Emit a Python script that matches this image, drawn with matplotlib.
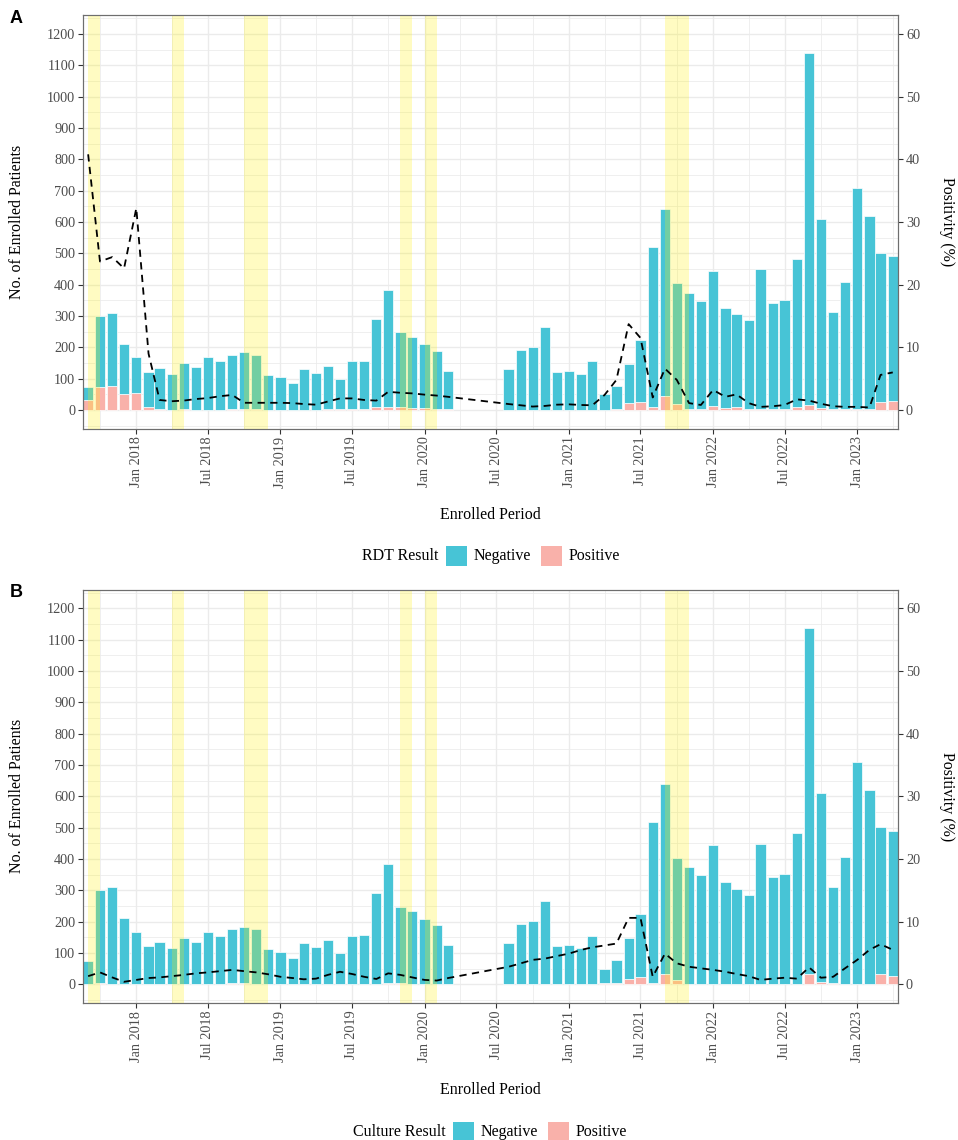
import matplotlib
matplotlib.use('Agg')

import matplotlib.pyplot as plt
import matplotlib.dates as mdates
from matplotlib.patches import Rectangle
from matplotlib.ticker import MultipleLocator
import pandas as pd

plt.rcParams['font.family'] = 'Liberation Serif'

W, H = 958, 1140

# Monthly enrolment, Sep 2017 - Apr 2023 (no enrolment Apr-Jul 2020)
months = pd.date_range('2017-09-01', '2023-04-01', freq='MS')
months = months[(months < '2020-04-01') | (months > '2020-07-01')]

total = [75, 300, 311, 212,
         168, 122, 134, 115, 149, 136, 168, 155, 176, 184, 176, 113,
         104, 85, 132, 119, 140, 100, 155, 157, 292, 384, 248, 234,
         210, 189, 125, 132, 192, 202, 266, 121,
         125, 115, 155, 50, 76, 147, 223, 519, 640, 404, 373, 348,
         443, 326, 305, 286, 449, 343, 352, 483, 1138, 609, 312, 407,
         710, 620, 501, 490]

rdt_pos = [32, 72, 76, 50,
           55, 11, 2, 1, 3, 1, 1, 1, 4, 2, 2, 1,
           1, 1, 1, 1, 2, 2, 3, 2, 8, 10, 8, 6,
           5, 4, 2, 1, 1, 1, 1, 1,
           1, 1, 1, 1, 4, 23, 26, 8, 44, 19, 4, 2,
           14, 7, 8, 3, 2, 2, 3, 8, 16, 6, 2, 2,
           3, 2, 27, 29]

rdt_rate = [40.8, 23.7, 24.4, 22.6,
            32.2, 9.0, 1.6, 1.4, 1.5, 1.75, 1.9, 2.2, 2.4, 1.15, 1.15, 1.15,
            1.15, 1.1, 0.95, 0.85, 1.35, 1.85, 1.85, 1.6, 1.5, 2.9, 2.75, 2.65,
            2.45, 2.3, 2.1, 0.95, 0.75, 0.55, 0.65, 0.85,
            0.9, 0.8, 0.75, 2.4, 4.8, 13.7, 11.5, 2.0, 6.6, 4.8, 1.1, 0.8,
            3.2, 2.1, 2.5, 1.1, 0.5, 0.6, 0.8, 1.7, 1.5, 1.0, 0.6, 0.5,
            0.5, 0.4, 5.6, 6.0]

culture_pos = [1, 5, 0, 2,
               0, 0, 0, 0, 0, 0, 0, 0, 3, 3, 0, 0,
               0, 0, 2, 2, 0, 2, 0, 2, 2, 3, 3, 0,
               0, 2, 0, 0, 0, 0, 0, 0,
               0, 0, 0, 3, 3, 17, 24, 5, 32, 13, 0, 0,
               0, 0, 0, 0, 2, 0, 2, 2, 32, 7, 3, 0,
               0, 0, 34, 27]

culture_rate = [1.3, 1.9, 1.1, 0.4,
                0.7, 1.0, 1.1, 1.3, 1.5, 1.75, 1.9, 2.1, 2.3, 2.1, 1.9, 1.6,
                1.2, 1.0, 0.8, 0.9, 1.5, 2.0, 1.65, 1.2, 0.85, 1.75, 1.5, 1.1,
                0.7, 0.6, 1.0, 2.8, 3.35, 3.9, 4.1, 4.5,
                4.9, 5.5, 5.9, 6.2, 6.5, 10.6, 10.6, 1.2, 4.9, 3.35, 2.8, 2.55,
                2.3, 2.0, 1.65, 1.3, 0.7, 0.9, 1.05, 0.9, 2.7, 1.05, 1.2, 2.55,
                3.9, 5.5, 6.4, 5.5]

# highlighted periods (yellow bands)
shade_start = ['2017-09-01', '2018-04-01', '2018-10-01', '2019-11-01', '2020-01-01', '2021-09-01']
shade_end = ['2017-10-01', '2018-05-01', '2018-12-01', '2019-12-01', '2020-02-01', '2021-11-01']

NEG_COLOR = '#47C4D6'
POS_COLOR = '#F9B1AA'
GRID = '#EBEBEB'
SPINE = '#6E6E6E'
TICKC = '#4D4D4D'


def fx(px):
    return px / W


def fy(py):
    return 1 - py / H


def draw_panel(fig, top_px, pos, rate, letter, legend_title, leg):
    left, right, bottom = 83, 898.3, top_px + 413.6
    ax = fig.add_axes([fx(left), fy(bottom), fx(right - left), (bottom - top_px) / H])

    neg = [t - p for t, p in zip(total, pos)]
    ax.bar(months, pos, width=26, color=POS_COLOR, edgecolor='white', linewidth=0.5, zorder=2)
    ax.bar(months, neg, bottom=pos, width=26, color=NEG_COLOR, edgecolor='white',
           linewidth=0.5, zorder=2)

    for s, e in zip(shade_start, shade_end):
        ax.axvspan(pd.Timestamp(s), pd.Timestamp(e), color='#FFF000', alpha=0.24,
                   lw=0, zorder=3)

    ax.set_xlim(months[0] - pd.Timedelta(days=13), months[-1] + pd.Timedelta(days=14))
    ax.set_ylim(-60, 1260)
    ax.yaxis.set_major_locator(MultipleLocator(100))
    ax.yaxis.set_minor_locator(MultipleLocator(50))
    ax.xaxis.set_major_locator(mdates.MonthLocator(bymonth=[1, 7]))
    ax.xaxis.set_minor_locator(mdates.MonthLocator(bymonth=[4, 10]))
    ax.xaxis.set_major_formatter(mdates.DateFormatter('%b %Y'))
    ax.set_axisbelow(True)
    ax.grid(which='major', color=GRID, linewidth=1.0)
    ax.grid(which='minor', color=GRID, linewidth=0.55)
    ax.tick_params(which='major', length=3.5, width=0.8, color='#333333',
                   labelsize=10.3, labelcolor=TICKC, pad=2)
    ax.tick_params(which='minor', length=0)
    for lab in ax.get_xticklabels():
        lab.set_rotation(90)
    for sp in ax.spines.values():
        sp.set_color(SPINE)
        sp.set_linewidth(0.8)

    ax.set_xlabel('Enrolled Period', fontsize=11.5)
    ax.xaxis.set_label_coords(0.5, -86.5 / 413.6)
    ax.xaxis.label.set_va('center')
    ax.set_ylabel('No. of Enrolled Patients', fontsize=11.5)
    ax.yaxis.set_label_coords((17 - left) / (right - left), 0.5)
    ax.yaxis.label.set_va('center')

    ax2 = ax.twinx()
    ax2.plot(months, rate, color='black', linewidth=1.3, linestyle=(0, (4, 3)), zorder=5)
    ax2.set_ylim(-3, 63)
    ax2.yaxis.set_major_locator(MultipleLocator(10))
    ax2.tick_params(length=3.5, width=0.8, color='#333333', labelsize=10.3,
                    labelcolor=TICKC, pad=2)
    for sp in ax2.spines.values():
        sp.set_color(SPINE)
        sp.set_linewidth(0.8)
    ax2.set_ylabel('Positivity (%)', fontsize=11.5, rotation=270)
    ax2.yaxis.set_label_coords((947 - left) / (right - left), 0.5)
    ax2.yaxis.label.set_va('center')

    fig.text(fx(16), fy(top_px + 3), letter, fontsize=13, fontweight='bold',
             family='Liberation Sans', ha='center', va='center')

    # legend below the panel
    yc = leg['y']
    fig.text(fx(leg['title']), fy(yc), legend_title, fontsize=11.5, ha='left', va='center')
    for key_x, txt_x, label, col in [(leg['k1'], leg['t1'], 'Negative', NEG_COLOR),
                                     (leg['k2'], leg['t2'], 'Positive', POS_COLOR)]:
        fig.add_artist(Rectangle((fx(key_x), fy(yc + 10)), 21 / W, 20 / H,
                                 transform=fig.transFigure, facecolor=col,
                                 edgecolor='none'))
        fig.text(fx(txt_x), fy(yc), label, fontsize=11.5, ha='left', va='center')
    return ax


fig = plt.figure(figsize=(W / 100, H / 100), dpi=100)

draw_panel(fig, 15.2, rdt_pos, rdt_rate, 'A', 'RDT Result',
           {'y': 556, 'title': 362, 'k1': 446, 't1': 474, 'k2': 541, 't2': 569})
draw_panel(fig, 589.5, culture_pos, culture_rate, 'B', 'Culture Result',
           {'y': 1132, 'title': 353, 'k1': 453, 't1': 481, 'k2': 548, 't2': 576})

fig.savefig('out.png', dpi=100)
